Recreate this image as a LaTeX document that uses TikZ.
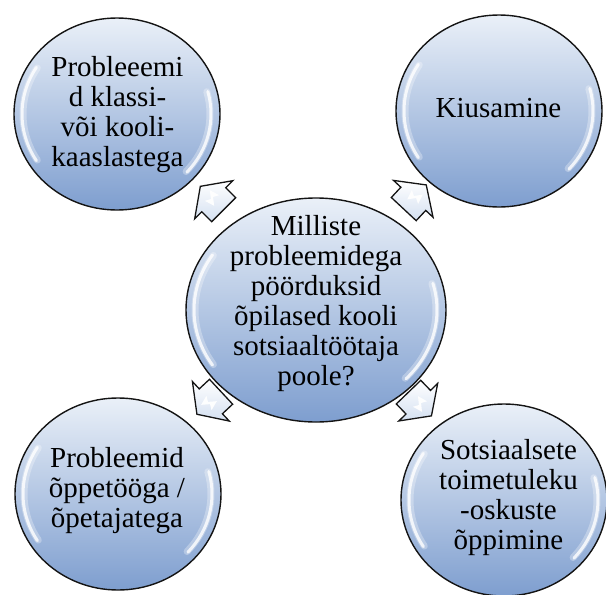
\documentclass[tikz,border=0pt]{standalone}
\usepackage{fontspec}
\setmainfont{Liberation Serif}
\newfontfamily\tnrfont{Liberation Serif}
\usetikzlibrary{shapes.geometric}
\definecolor{circtop}{RGB}{234,240,248}
\definecolor{circbot}{RGB}{126,158,207}
\definecolor{outl}{RGB}{20,20,20}
\definecolor{arrfill}{RGB}{212,224,241}
\tikzset{
  bubble/.style={ellipse, draw=outl, line width=1.4pt, top color=circtop, bottom color=circbot, inner sep=0pt},
  outerbubble/.style={bubble, minimum width=206pt, minimum height=192pt},
  centerbubble/.style={bubble, minimum width=260pt, minimum height=224pt},
  bubbletext/.style={font=\tnrfont\fontsize{29}{30}\selectfont, align=center, inner sep=0pt, text=black},
  gloss/.style={white, line width=3pt, opacity=.8, line cap=round},
  glosssoft/.style={white, line width=7pt, opacity=.3, line cap=round},
  blockarrow/.style={draw=outl, line width=1.3pt, top color=white, bottom color=arrfill, line join=miter},
}
\newcommand\dirarrow[2]{%
  \begin{scope}[shift={(#1)}, rotate=#2]
    \draw[blockarrow] (-16.5,17) -- (-2.5,17) -- (-2.5,27) -- (16.5,0) -- (-2.5,-27) -- (-2.5,-17) -- (-16.5,-17) -- cycle;
    \fill[white, opacity=.95] (-7,4) -- (3,7) -- (0,1.5) -- (7,-4) -- (-3,-7) -- (0,-1.5) -- cycle;
  \end{scope}}
\newcommand\glossy[3]{%
  \begin{scope}[shift={(#1)}]
    \draw[glosssoft] (148:{#2-9} and {#3-9}) arc[start angle=148, end angle=212, x radius=#2-9, y radius=#3-9];
    \draw[glosssoft] (15:{#2-10} and {#3-10}) arc[start angle=15, end angle=-42, x radius=#2-10, y radius=#3-10];
    \draw[gloss] (148:{#2-8} and {#3-8}) arc[start angle=148, end angle=212, x radius=#2-8, y radius=#3-8];
    \draw[gloss] (15:{#2-9} and {#3-9}) arc[start angle=15, end angle=-42, x radius=#2-9, y radius=#3-9];
  \end{scope}}
\begin{document}
\begin{tikzpicture}[x=1pt, y=1pt]
\useasboundingbox (0,0) rectangle (606,-595);
% bubbles
\node[centerbubble] (c) at (316,-310) {};
\node[outerbubble] (tl) at (117,-114) {};
\node[outerbubble] (tr) at (499,-111) {};
\node[outerbubble] (bl) at (118,-494) {};
\node[outerbubble] (br) at (504,-500) {};
\glossy{c}{130}{112}
\glossy{tl}{103}{96}
\glossy{tr}{103}{96}
\glossy{bl}{103}{96}
\glossy{br}{103}{96}
% texts
\node[bubbletext] (ct) at (316,-303.5) {Milliste\\probleemidega\\pöörduksid\\õpilased kooli\\sotsiaaltöötaja\\poole?};
\node[bubbletext] (tlt) at (117.5,-115) {Probleeemi\\d klassi-\\või kooli-\\kaaslastega};
\node[bubbletext, anchor=base] (trt) at (498.5,-117) {Kiusamine};
\node[bubbletext] (blt) at (117,-491) {Probleemid\\õppetööga /\\õpetajatega};
\node[bubbletext] (brt) at (508.5,-498) {Sotsiaalsete\\toimetuleku\\-oskuste\\õppimine};
% arrows
\coordinate (a1) at (212,-198);
\coordinate (a2) at (415,-197);
\coordinate (a3) at (209,-403);
\coordinate (a4) at (420,-404);
\dirarrow{a1}{135}
\dirarrow{a2}{47}
\dirarrow{a3}{223}
\dirarrow{a4}{-46}
\end{tikzpicture}
\end{document}
